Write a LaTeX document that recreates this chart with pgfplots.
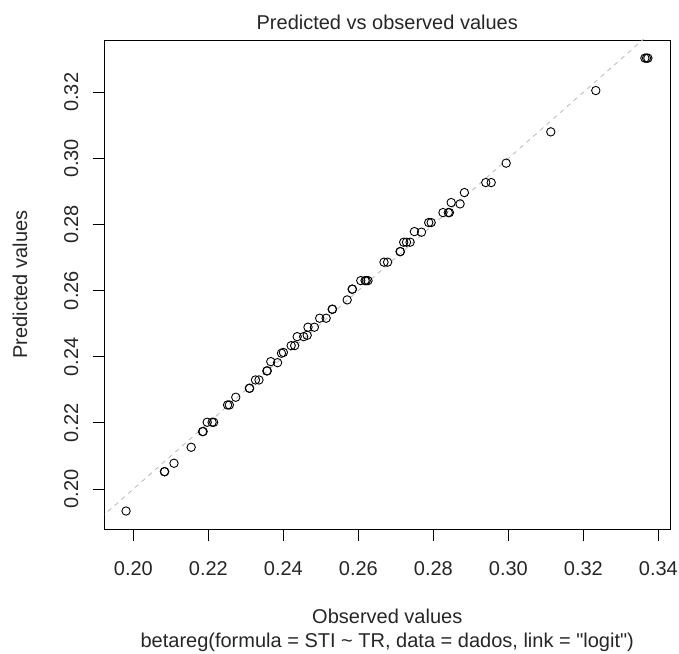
\documentclass[border=0pt]{standalone}
\usepackage{pgfplots}
\pgfplotsset{compat=1.18}
\usepackage{pgfplotstable}
\usepackage{fontspec}
\setmainfont{Liberation Sans}

\pgfplotstableread{
obs      pred
0.19805  0.19334
0.20827  0.20524
0.20835  0.20524
0.21083  0.20778
0.21541  0.21262
0.21845  0.21734
0.21860  0.21740
0.21968  0.22018
0.22100  0.22018
0.22141  0.22018
0.22512  0.22542
0.22560  0.22542
0.22730  0.22775
0.23093  0.23047
0.23100  0.23047
0.23256  0.23298
0.23349  0.23298
0.23560  0.23570
0.23570  0.23575
0.23664  0.23852
0.23845  0.23821
0.23949  0.24106
0.24000  0.24130
0.24208  0.24336
0.24301  0.24336
0.24368  0.24608
0.24541  0.24608
0.24635  0.24650
0.24656  0.24893
0.24827  0.24893
0.24968  0.25165
0.25141  0.25165
0.25301  0.25437
0.25310  0.25437
0.25701  0.25719
0.25835  0.26042
0.25840  0.26045
0.26064  0.26303
0.26179  0.26303
0.26210  0.26303
0.26256  0.26303
0.26683  0.26860
0.26779  0.26860
0.27112  0.27180
0.27120  0.27180
0.27208  0.27464
0.27283  0.27464
0.27379  0.27464
0.27493  0.27785
0.27683  0.27767
0.27875  0.28058
0.27941  0.28058
0.28256  0.28360
0.28397  0.28360
0.28427  0.28360
0.28475  0.28663
0.28712  0.28623
0.28827  0.28965
0.29397  0.29268
0.29541  0.29268
0.29941  0.29855
0.31131  0.30802
0.32331  0.32051
0.33640  0.33032
0.33683  0.33032
0.33720  0.33032
}\obspred

\begin{document}
\begin{tikzpicture}[x=1pt,y=1pt]
\useasboundingbox (0,0) rectangle (679,653);
\begin{axis}[
  at={(104.5pt,124pt)}, anchor=south west,
  width=565.5pt, height=489pt, scale only axis,
  xmin=0.1923, xmax=0.3431, ymin=0.1879, ymax=0.3358,
  axis line style={black, line width=0.8pt},
  tick align=outside, major tick length=12pt,
  tick style={black, line width=0.8pt},
  xtick pos=left, ytick pos=left,
  xtick={0.20,0.22,0.24,0.26,0.28,0.30,0.32,0.34},
  ytick={0.20,0.22,0.24,0.26,0.28,0.30,0.32},
  tick label style={font=\fontsize{20}{24}\selectfont, text=black!85,
    /pgf/number format/fixed, /pgf/number format/fixed zerofill,
    /pgf/number format/precision=2, /pgf/number format/assume math mode=true},
  xticklabel style={anchor=base, yshift=-34pt},
  yticklabel style={rotate=90, anchor=base, yshift=14.5pt},
]
\addplot[only marks, mark=o, mark size=4.2pt, mark options={black, line width=0.9pt}]
  table[x=obs, y=pred] {\obspred};
\addplot[gray!55, line width=0.8pt, dash pattern=on 4.5pt off 4.5pt]
  coordinates {(0.15,0.15) (0.40,0.40)};
\end{axis}
\begin{scope}[every node/.style={font=\fontsize{20}{24}\selectfont, text=black!85, inner sep=0pt}]
\node[anchor=base] at (387.25,623) {Predicted vs observed values};
\node[anchor=base] at (387.25,30) {Observed values};
\node[anchor=base] at (387.25,6) {betareg(formula = STI \textasciitilde{} TR, data = dados, link = \textquotedbl logit\textquotedbl)};
\node[anchor=base, rotate=90] at (27,368.5) {Predicted values};
\end{scope}
\end{tikzpicture}
\end{document}
